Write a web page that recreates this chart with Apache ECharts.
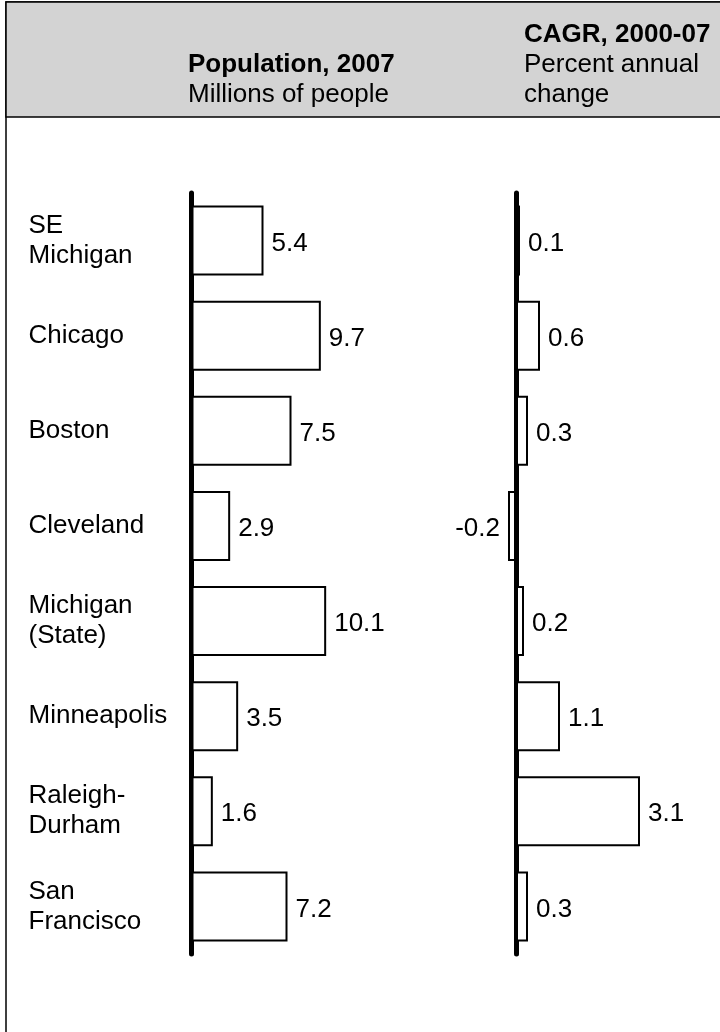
<!DOCTYPE html>
<html>
<head>
<meta charset="utf-8">
<script src="https://cdn.jsdelivr.net/npm/echarts@6/dist/echarts.min.js"></script>
<style>
html,body{margin:0;padding:0;background:#fff;}
#chart{width:720px;height:1032px;}
</style>
</head>
<body>
<div id="chart"></div>
<script>
var categories = ['SE\nMichigan', 'Chicago', 'Boston', 'Cleveland', 'Michigan\n(State)', 'Minneapolis', 'Raleigh-\nDurham', 'San\nFrancisco'];
var population = [5.4, 9.7, 7.5, 2.9, 10.1, 3.5, 1.6, 7.2];
var cagr = [0.1, 0.6, 0.3, -0.2, 0.2, 1.1, 3.1, 0.3];
var popTitle = 'Population, 2007';
var popSub = 'Millions of people';
var cagrTitle = 'CAGR, 2000-07';
var cagrSub = ['Percent annual', 'change'];

var FONT = '"Liberation Sans", Arial, Helvetica, sans-serif';
var FS = 26;

function toItems(arr) {
  return arr.map(function (v) {
    return {
      value: v,
      label: { position: v < 0 ? 'left' : 'right' }
    };
  });
}

var chart = echarts.init(document.getElementById('chart'), null, { renderer: 'canvas' });

var barStyle = { color: '#ffffff', borderColor: '#000000', borderWidth: 2 };
var labelStyle = {
  show: true,
  distance: 8,
  offset: [0, 3],
  color: '#000',
  fontFamily: FONT,
  fontSize: FS,
  formatter: function (p) { return p.value.toFixed(1); }
};

function headText(x, y, txt, bold) {
  return {
    type: 'text', z: 2, x: x, y: y,
    style: {
      text: txt, fill: '#000', fontFamily: FONT, fontSize: FS,
      fontWeight: bold ? 'bold' : 'normal', verticalAlign: 'top', align: 'left'
    }
  };
}

var option = {
  animation: false,
  backgroundColor: '#ffffff',
  graphic: [
    { type: 'rect', z: 0, shape: { x: 6, y: 2, width: 740, height: 1060 }, style: { fill: '#fff', stroke: '#000', lineWidth: 1.5 } },
    { type: 'rect', z: 1, shape: { x: 6, y: 2, width: 740, height: 115 }, style: { fill: '#d3d3d3', stroke: '#000', lineWidth: 1.5 } },
    headText(188, 52, popTitle, true),
    headText(188, 82, popSub, false),
    headText(524, 22, cagrTitle, true),
    headText(524, 52, cagrSub[0], false),
    headText(524, 82, cagrSub[1], false)
  ],
  grid: [
    { left: 191.5, top: 193, width: 200, height: 761 },
    { left: 496, top: 193, width: 180, height: 761 }
  ],
  xAxis: [
    { type: 'value', gridIndex: 0, min: 0, max: 15, show: false },
    { type: 'value', gridIndex: 1, min: -0.5, max: 4, show: false }
  ],
  yAxis: [
    {
      type: 'category', gridIndex: 0, data: categories, inverse: true,
      axisLine: { show: true, lineStyle: { color: '#000', width: 5, cap: 'round' } },
      axisTick: { show: false },
      splitLine: { show: false },
      axisLabel: {
        show: true, align: 'left', margin: 163, color: '#000',
        fontFamily: FONT, fontSize: FS, lineHeight: 30,
        padding: [6, 0, 0, 0]
      }
    },
    {
      type: 'category', gridIndex: 1, data: categories, inverse: true,
      axisLine: { show: true, onZero: true, lineStyle: { color: '#000', width: 5, cap: 'round' } },
      axisTick: { show: false },
      splitLine: { show: false },
      axisLabel: { show: false }
    }
  ],
  series: [
    {
      type: 'bar', xAxisIndex: 0, yAxisIndex: 0, data: toItems(population),
      barWidth: 70, itemStyle: barStyle, label: labelStyle, z: 3
    },
    {
      type: 'bar', xAxisIndex: 1, yAxisIndex: 1, data: toItems(cagr),
      barWidth: 70, itemStyle: barStyle, label: labelStyle, z: 3
    }
  ]
};
chart.setOption(option);
</script>
</body>
</html>
